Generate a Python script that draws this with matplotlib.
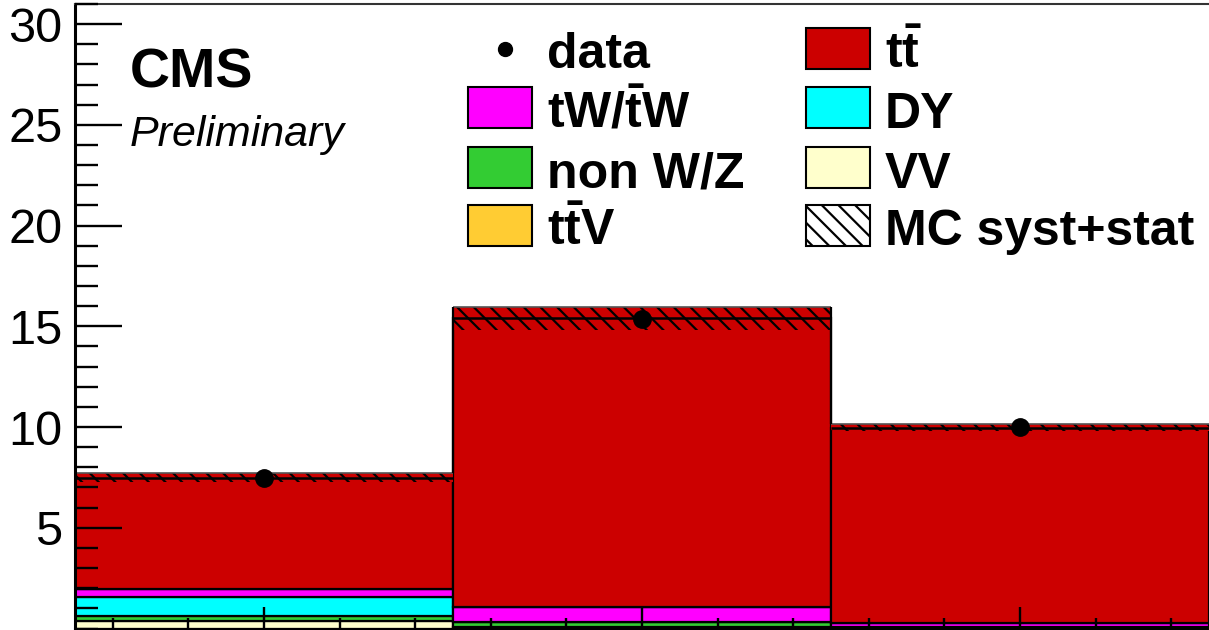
import matplotlib
matplotlib.use('Agg')
import matplotlib.pyplot as plt
import numpy as np
from matplotlib.ticker import MultipleLocator
from matplotlib.patches import Rectangle
from matplotlib.lines import Line2D

# bin left edges (width 1 each)
bins = [0, 1, 2]

# stacked MC yields, bottom to top
vv = [0.39, 0.05, 0.0]
nonwz = [0.23, 0.25, 0.05]
dy = [0.96, 0.0, 0.0]
tw = [0.37, 0.75, 0.22]
ttv = [0.02, 0.02, 0.02]
tt = [5.52, 14.32, 9.68]

unc = [0.23, 0.58, 0.19]
data = [7.45, 15.37, 10.02]

plt.rcParams['font.family'] = ['Liberation Sans', 'DejaVu Sans']
plt.rcParams['mathtext.fontset'] = 'custom'
plt.rcParams['mathtext.rm'] = 'Liberation Sans'
plt.rcParams['mathtext.bf'] = 'Liberation Sans:bold'
plt.rcParams['hatch.linewidth'] = 1.6

W, H = 1209, 630
fig = plt.figure(figsize=(W / 100, H / 100), dpi=100)
ax = fig.add_axes([75 / W, 1.5 / H, 1 - 75 / W, 624.5 / H])

layers = [
    (vv, '#ffffcc'),
    (nonwz, '#33cc33'),
    (dy, '#00ffff'),
    (tw, '#ff00ff'),
    (ttv, '#ffcc33'),
    (tt, '#cc0000'),
]

x = np.array(bins, dtype=float)
bottom = np.zeros(3)
for vals, col in layers:
    ax.bar(x, vals, width=1, bottom=bottom, align='edge', color=col,
           edgecolor='black', linewidth=1.6, zorder=1)
    bottom = bottom + np.array(vals)
total = bottom

unc = np.array(unc)
# uncertainty band
ax.bar(x, 2 * unc, width=1, bottom=total - unc, align='edge',
       color='#cc0000', linewidth=0, zorder=1.2)
ax.bar(x, 2 * unc, width=1, bottom=total - unc, align='edge',
       fill=False, hatch='\\\\', edgecolor='black', linewidth=0, zorder=1.3)
ax.hlines(total + unc, x, x + 1, color='#555555', linewidth=1.2, zorder=1.35)
ax.vlines(x[1:], (total + unc)[:-1], (total + unc)[1:], color='black',
          linewidth=1.6, zorder=1.35)
ax.hlines(total, x, x + 1, color='black', linewidth=1.8, zorder=1.4)

ax.plot(x + 0.5, data, 'o', color='black', markersize=12.5, zorder=5)

ax.set_xlim(0, 3)
ax.set_ylim(0, 31)
ax.xaxis.set_major_locator(MultipleLocator(1, offset=0.5))
ax.xaxis.set_minor_locator(MultipleLocator(0.2, offset=0.1))
ax.set_yticks([5, 10, 15, 20, 25, 30])
ax.yaxis.set_minor_locator(MultipleLocator(1))
ax.tick_params(axis='x', which='major', direction='in', length=16, width=1.7,
               labelbottom=False)
ax.tick_params(axis='x', which='minor', direction='in', length=8, width=1.7)
ax.tick_params(axis='y', which='major', direction='in', length=34, width=1.7,
               labelsize=35, pad=9)
ax.tick_params(axis='y', which='minor', direction='in', length=16.5, width=1.7)
ax.set_axisbelow(False)
for s in ['left', 'bottom']:
    ax.spines[s].set_linewidth(2.2)
ax.spines['top'].set_linewidth(1.5)
ax.spines['top'].set_color('#333333')
ax.spines['right'].set_visible(False)

ax.text((130 - 75) / 1134, (628.5 - 88) / 624.5, 'CMS', transform=ax.transAxes,
        fontsize=40, fontweight='bold', va='baseline', ha='left')
ax.text((130 - 75) / 1134, (628.5 - 146) / 624.5, 'Preliminary',
        transform=ax.transAxes, fontsize=31, style='italic', va='baseline',
        ha='left')


# legend drawn in figure pixel coordinates
def fx(px):
    return px / W


def fy(py):
    return 1 - py / H


entries = [
    (505, 48.5, 'data', 'marker'),
    (468, 108, r'$\mathbf{tW/\bar{t}W}$', '#ff00ff'),
    (468, 167.5, 'non W/Z', '#33cc33'),
    (468, 225.5, r'$\mathbf{t\bar{t}V}$', '#ffcc33'),
    (806, 48.5, r'$\mathbf{t\bar{t}}$', '#cc0000'),
    (806, 108, 'DY', '#00ffff'),
    (806, 167.5, 'VV', '#ffffcc'),
    (806, 225.5, 'MC syst+stat', 'hatch'),
]
for px, py, label, kind in entries:
    if kind == 'marker':
        fig.add_artist(Line2D([fx(px)], [fy(py)], marker='o', color='black',
                              markersize=10, transform=fig.transFigure))
        tx = 547
    else:
        if kind == 'hatch':
            r = Rectangle((fx(px), fy(py + 20.5)), 64 / W, 41 / H,
                          facecolor='white', edgecolor='black', hatch='\\\\',
                          linewidth=1.5, transform=fig.transFigure)
        else:
            r = Rectangle((fx(px), fy(py + 20.5)), 64 / W, 41 / H,
                          facecolor=kind, edgecolor='black', linewidth=1.5,
                          transform=fig.transFigure)
        fig.add_artist(r)
        tx = px + 79
    fig.text(fx(tx), fy(py + 20), label, fontsize=36, fontweight='bold',
             va='baseline', ha='left')

fig.savefig('out.png', dpi=100)
